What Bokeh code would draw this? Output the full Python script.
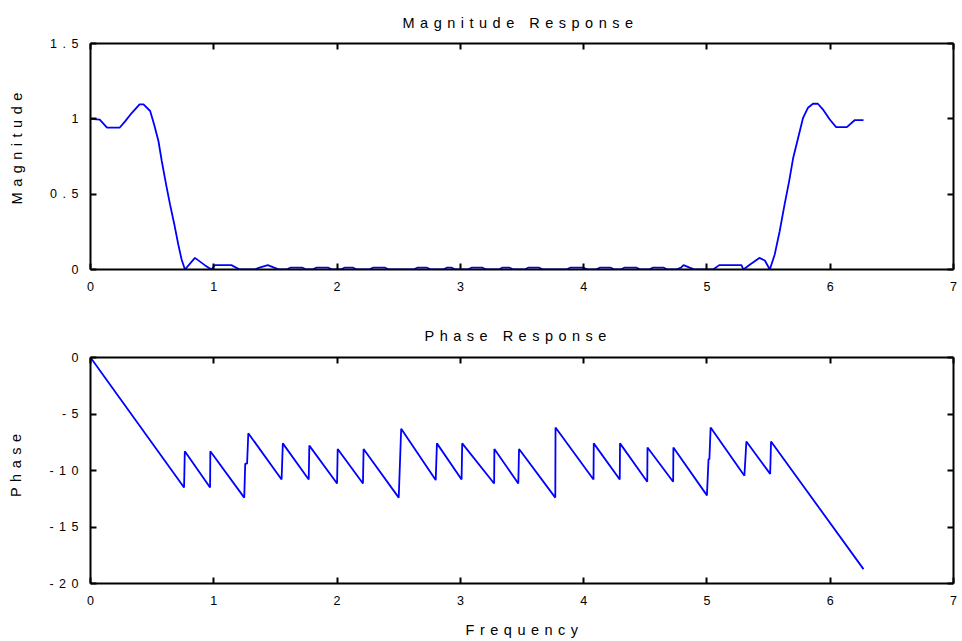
from bokeh.plotting import figure
from bokeh.layouts import column
from bokeh.models import Range1d, LinearAxis, FixedTicker, InlineStyleSheet
from bokeh.embed import file_html
from bokeh.resources import INLINE

# ---- data ---------------------------------------------------------------
# Magnitude response |H(w)| sampled along 0..2*pi
w_mag = [0.00, 0.075, 0.134, 0.236, 0.282, 0.336, 0.398, 0.43, 0.484, 0.516,
         0.551, 0.578, 0.613, 0.645, 0.68, 0.712, 0.739, 0.766, 0.847, 0.927,
         0.981, 1.008, 1.143, 1.21, 1.33, 1.37, 1.438, 1.49, 1.53,
         1.59, 1.62, 1.72, 1.75, 1.80, 1.83, 1.93, 1.96, 2.03, 2.06, 2.13, 2.16,
         2.26, 2.29, 2.39, 2.42, 2.62, 2.65, 2.73, 2.76, 2.86, 2.89, 2.93, 2.96,
         3.06, 3.09, 3.18, 3.21, 3.31, 3.34, 3.40, 3.43, 3.52, 3.55, 3.64, 3.67,
         3.86, 3.89, 4.00, 4.03, 4.10, 4.13, 4.22, 4.25, 4.30, 4.33, 4.43, 4.46,
         4.53, 4.56, 4.65, 4.68, 4.75, 4.79, 4.81, 4.86, 4.90, 5.05, 5.10, 5.28,
         5.296, 5.35, 5.425, 5.47, 5.51, 5.55, 5.59, 5.63, 5.667, 5.70, 5.74,
         5.78, 5.82, 5.86, 5.90, 5.94, 5.995, 6.048, 6.135, 6.20, 6.27]
mag = [1.00, 0.995, 0.941, 0.941, 0.985, 1.04, 1.096, 1.096, 1.052, 0.963,
       0.853, 0.72, 0.565, 0.432, 0.299, 0.166, 0.066, 0.0, 0.077, 0.029,
       0.0, 0.029, 0.029, 0.0, 0.0, 0.012, 0.029, 0.012, 0.0,
       0.0, 0.012, 0.012, 0.0, 0.0, 0.012, 0.012, 0.0, 0.0, 0.012, 0.012, 0.0,
       0.0, 0.012, 0.012, 0.0, 0.0, 0.012, 0.012, 0.0, 0.0, 0.012, 0.012, 0.0,
       0.0, 0.012, 0.012, 0.0, 0.0, 0.012, 0.012, 0.0, 0.0, 0.012, 0.012, 0.0,
       0.0, 0.012, 0.012, 0.0, 0.0, 0.012, 0.012, 0.0, 0.0, 0.012, 0.012, 0.0,
       0.0, 0.012, 0.012, 0.0, 0.0, 0.012, 0.029, 0.012, 0.0, 0.0, 0.029, 0.029,
       0.0, 0.033, 0.077, 0.06, 0.0, 0.10, 0.254, 0.432, 0.587, 0.742, 0.875,
       1.007, 1.074, 1.10, 1.10, 1.063, 0.997, 0.945, 0.945, 0.992, 0.992]

# Phase response (radians) along 0..2*pi, with the wrap jumps
w_ph = [0.0, 0.759, 0.765, 0.97, 0.972, 1.247, 1.255, 1.27, 1.28, 1.55, 1.56,
        1.77, 1.775, 2.0, 2.005, 2.21, 2.215, 2.50, 2.52, 2.80, 2.81, 3.01,
        3.015, 3.274, 3.276, 3.47, 3.476, 3.77, 3.772, 4.08, 4.082, 4.293,
        4.295, 4.516, 4.518, 4.726, 4.728, 5.0, 5.013, 5.02, 5.03, 5.304,
        5.32, 5.513, 5.52, 6.27]
phase = [0.0, -11.5, -8.3, -11.5, -8.3, -12.4, -9.4, -9.4, -6.7, -10.8, -7.6,
         -10.8, -7.8, -11.15, -8.1, -11.15, -8.1, -12.4, -6.3, -10.85, -7.6,
         -10.8, -7.6, -11.15, -8.1, -11.15, -8.1, -12.4, -6.2, -10.8, -7.6,
         -10.8, -7.6, -11.0, -7.96, -11.0, -7.96, -12.2, -9.0, -9.0, -6.2,
         -10.47, -7.43, -10.3, -7.43, -18.73]

x_ticks = [0, 1, 2, 3, 4, 5, 6, 7]
mag_ticks = [0, 0.5, 1, 1.5]
mag_tick_labels = ["0", "0.5", "1", "1.5"]
ph_ticks = [-20, -15, -10, -5, 0]
ph_tick_labels = ["-20", "-15", "-10", "-5", "0"]

FONT = "Liberation Sans"
LINE_BLUE = "#0000ff"
NBSP = "\u00a0"

# widely tracked lettering used for every label on the figure
SPACED = InlineStyleSheet(css=":host { letter-spacing: 5.5px; }")


def pad_left(labels):
    """Pad tick labels to equal length with no-break spaces so that the
    tracked lettering still lines up at the right edge."""
    n = max(len(s) for s in labels)
    return [NBSP * (n - len(s)) + s for s in labels]


def recentre(text, k):
    """Trailing no-break spaces pull tracked, centred text back to the
    middle of its axis."""
    return text + NBSP * k


def style_axis(ax, show_labels=True, standoff=12):
    ax.axis_line_width = 2
    ax.axis_line_color = "black"
    ax.major_tick_line_width = 2
    ax.major_tick_line_color = "black"
    ax.major_tick_in = 6
    ax.major_tick_out = 0
    ax.minor_tick_line_color = None
    ax.major_label_text_font = FONT
    ax.major_label_standoff = standoff
    if show_labels:
        ax.major_label_text_color = "black"
        ax.major_label_text_font_size = "12.5px"
    else:
        ax.major_label_text_color = None
        ax.major_label_text_font_size = "1px"
    ax.axis_label_text_font = FONT
    ax.axis_label_text_font_size = "14.5px"
    ax.axis_label_text_font_style = "normal"
    ax.axis_label_text_color = "black"


def make_panel(title, title_offset, title_standoff, y_range, y_ticks,
               y_labels, y_label, x_label, top_border, bottom_border):
    p = figure(frame_width=863, frame_height=226,
               min_border_left=90, min_border_right=9,
               min_border_top=top_border, min_border_bottom=bottom_border,
               x_range=Range1d(0, 7), y_range=Range1d(*y_range),
               output_backend="svg", toolbar_location=None,
               background_fill_color="white", border_fill_color="white")
    p.stylesheets = [SPACED]
    p.outline_line_color = None
    p.xgrid.grid_line_color = None
    p.ygrid.grid_line_color = None

    p.title.text = title
    p.title.align = "left"
    p.title.offset = title_offset
    p.title.text_font = FONT
    p.title.text_font_size = "14.5px"
    p.title.text_font_style = "normal"
    p.title.text_color = "black"
    p.title.standoff = title_standoff

    xt = FixedTicker(ticks=x_ticks)
    yt = FixedTicker(ticks=y_ticks)
    p.xaxis.ticker = xt
    p.yaxis.ticker = yt
    p.yaxis.major_label_overrides = dict(zip(y_ticks, pad_left(y_labels)))
    style_axis(p.xaxis[0], standoff=12)
    style_axis(p.yaxis[0], standoff=23)
    p.yaxis.axis_label = y_label
    p.yaxis.axis_label_standoff = 22
    if x_label:
        p.xaxis.axis_label = x_label
        p.xaxis.axis_label_standoff = 14

    # mirrored tick marks on the top and right edges of the box
    top = LinearAxis(ticker=xt)
    right = LinearAxis(ticker=yt)
    style_axis(top, show_labels=False, standoff=0)
    style_axis(right, show_labels=False, standoff=0)
    p.add_layout(top, "above")
    p.add_layout(right, "right")
    return p


# upper panel: magnitude
p_mag = make_panel("Magnitude Response", 312, 25, (0, 1.5), mag_ticks,
                   mag_tick_labels, recentre("Magnitude", 7), None, 43, 41)
p_mag.line(w_mag, mag, line_color=LINE_BLUE, line_width=1.8)

# lower panel: phase
p_ph = make_panel("Phase Response", 334, 28, (-20, 0), ph_ticks,
                  ph_tick_labels, recentre("Phase", 3),
                  recentre("Frequency", 11), 47, 58)
p_ph.line(w_ph, phase, line_color=LINE_BLUE, line_width=1.8)

layout = column(p_mag, p_ph, spacing=0)
open("out.html", "w").write(file_html(layout, INLINE))
